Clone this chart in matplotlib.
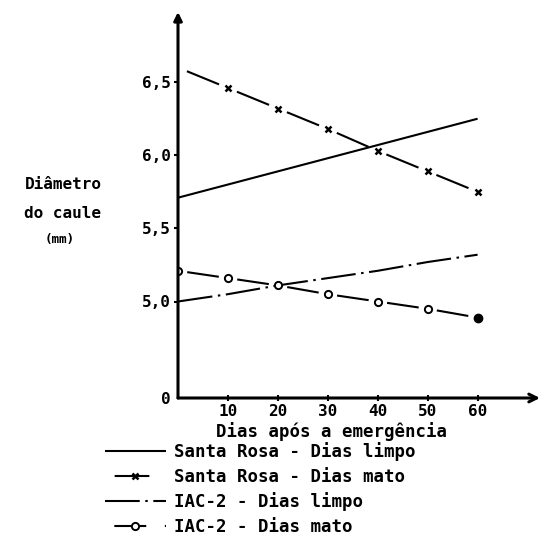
import matplotlib
matplotlib.use("Agg")
import matplotlib.pyplot as plt

plt.rcParams['lines.scale_dashes'] = False
plt.rcParams['font.family'] = ['DejaVu Sans Mono']
plt.rcParams['font.weight'] = 'bold'

# ---- data ----
days = [0, 10, 20, 30, 40, 50, 60]
sr_limpo = [5.71, 5.80, 5.89, 5.98, 6.07, 6.16, 6.25]
sr_mato = [6.60, 6.46, 6.32, 6.18, 6.03, 5.89, 5.75]
iac_limpo = [5.00, 5.05, 5.11, 5.16, 5.21, 5.27, 5.32]
iac_mato = [5.21, 5.16, 5.11, 5.05, 5.00, 4.95, 4.89]

labels = ["Santa Rosa - Dias limpo", "Santa Rosa - Dias mato",
          "IAC-2 - Dias limpo", "IAC-2 - Dias mato"]
xticks = [10, 20, 30, 40, 50, 60]
xticklabels = ["10", "20", "30", "40", "50", "60"]
y_break = 4.34   # bottom of broken axis, labelled 0
yticks = [y_break, 5.0, 5.5, 6.0, 6.5]
yticklabels = ["0", "5,0", "5,5", "6,0", "6,5"]

W, H = 544, 535
fig = plt.figure(figsize=(W / 100, H / 100), dpi=100)
fig.patch.set_facecolor('white')
ax = fig.add_axes([178 / W, 1 - 398 / H, (540 - 178) / W, (398 - 12) / H])
ax.set_xlim(0, 72.5)
ax.set_ylim(y_break, 6.98)

lw = 1.5
h1, = ax.plot(days, sr_limpo, color='black', lw=lw, solid_capstyle='butt')
h2, = ax.plot(days, sr_mato, color='black', lw=lw,
              linestyle=(31.95, (25, 13.9)),
              marker='x', ms=5, mew=1.8, markevery=slice(1, None))
h3, = ax.plot(days, iac_limpo, color='black', lw=lw,
              linestyle=(0, (25, 4, 1.8, 4)))
h4, = ax.plot(days[:-1], iac_mato[:-1], color='black', lw=lw,
              linestyle=(29.7, (23, 13.4)), marker='o', ms=5.2, mew=1.4,
              mfc='white')
ax.plot(days[-2:], iac_mato[-2:], color='black', lw=lw,
        linestyle=(29.7, (23, 13.4)))
ax.plot(days[-1], iac_mato[-1], 'o', color='black', ms=6)

# axes with arrows
for s in ax.spines.values():
    s.set_visible(False)
ax.annotate('', xy=(1.0, 0), xytext=(0, 0), xycoords='axes fraction',
            arrowprops=dict(arrowstyle='->', lw=2.2, color='black',
                            shrinkA=0, shrinkB=0, mutation_scale=14))
ax.annotate('', xy=(0, 1.0), xytext=(0, 0), xycoords='axes fraction',
            arrowprops=dict(arrowstyle='-|>', lw=2.2, color='black',
                            shrinkA=0, shrinkB=0, mutation_scale=12))

ax.set_xticks(xticks)
ax.set_xticklabels(xticklabels, fontsize=11.5, fontweight='bold')
ax.set_yticks(yticks)
ax.set_yticklabels(yticklabels, fontsize=11.5, fontweight='bold')
ax.tick_params(axis='x', direction='inout', length=5, width=1.5, pad=2)
ax.tick_params(axis='y', direction='out', length=3, width=1.5, pad=2)
ax.yaxis.get_major_ticks()[0].tick1line.set_visible(False)

ax.set_xlabel("Dias após a emergência", fontsize=12.5, fontweight='bold')
ax.xaxis.set_label_coords((331 - 178) / (540 - 178), -(432 - 398) / (398 - 12))
ax.xaxis.label.set_va('center')

fig.text(63 / W, 1 - 185 / H, "Diâmetro", ha='center', va='center',
         fontsize=11.5, fontweight='bold')
fig.text(63 / W, 1 - 213 / H, "do caule", ha='center', va='center',
         fontsize=11.5, fontweight='bold')
fig.text(60 / W, 1 - 240 / H, "(mm)", ha='center', va='center',
         fontsize=9, fontweight='bold')

leg = fig.legend([h1, h2, h3, h4], labels, loc='upper left',
                 bbox_to_anchor=(105 / W, 1 - 442 / H), frameon=False,
                 prop={'size': 12.5, 'weight': 'bold'}, handlelength=3.5,
                 handletextpad=0.45, labelspacing=0.38, numpoints=1,
                 borderpad=0, borderaxespad=0)

fig.savefig("out.png", dpi=100, facecolor='white')
